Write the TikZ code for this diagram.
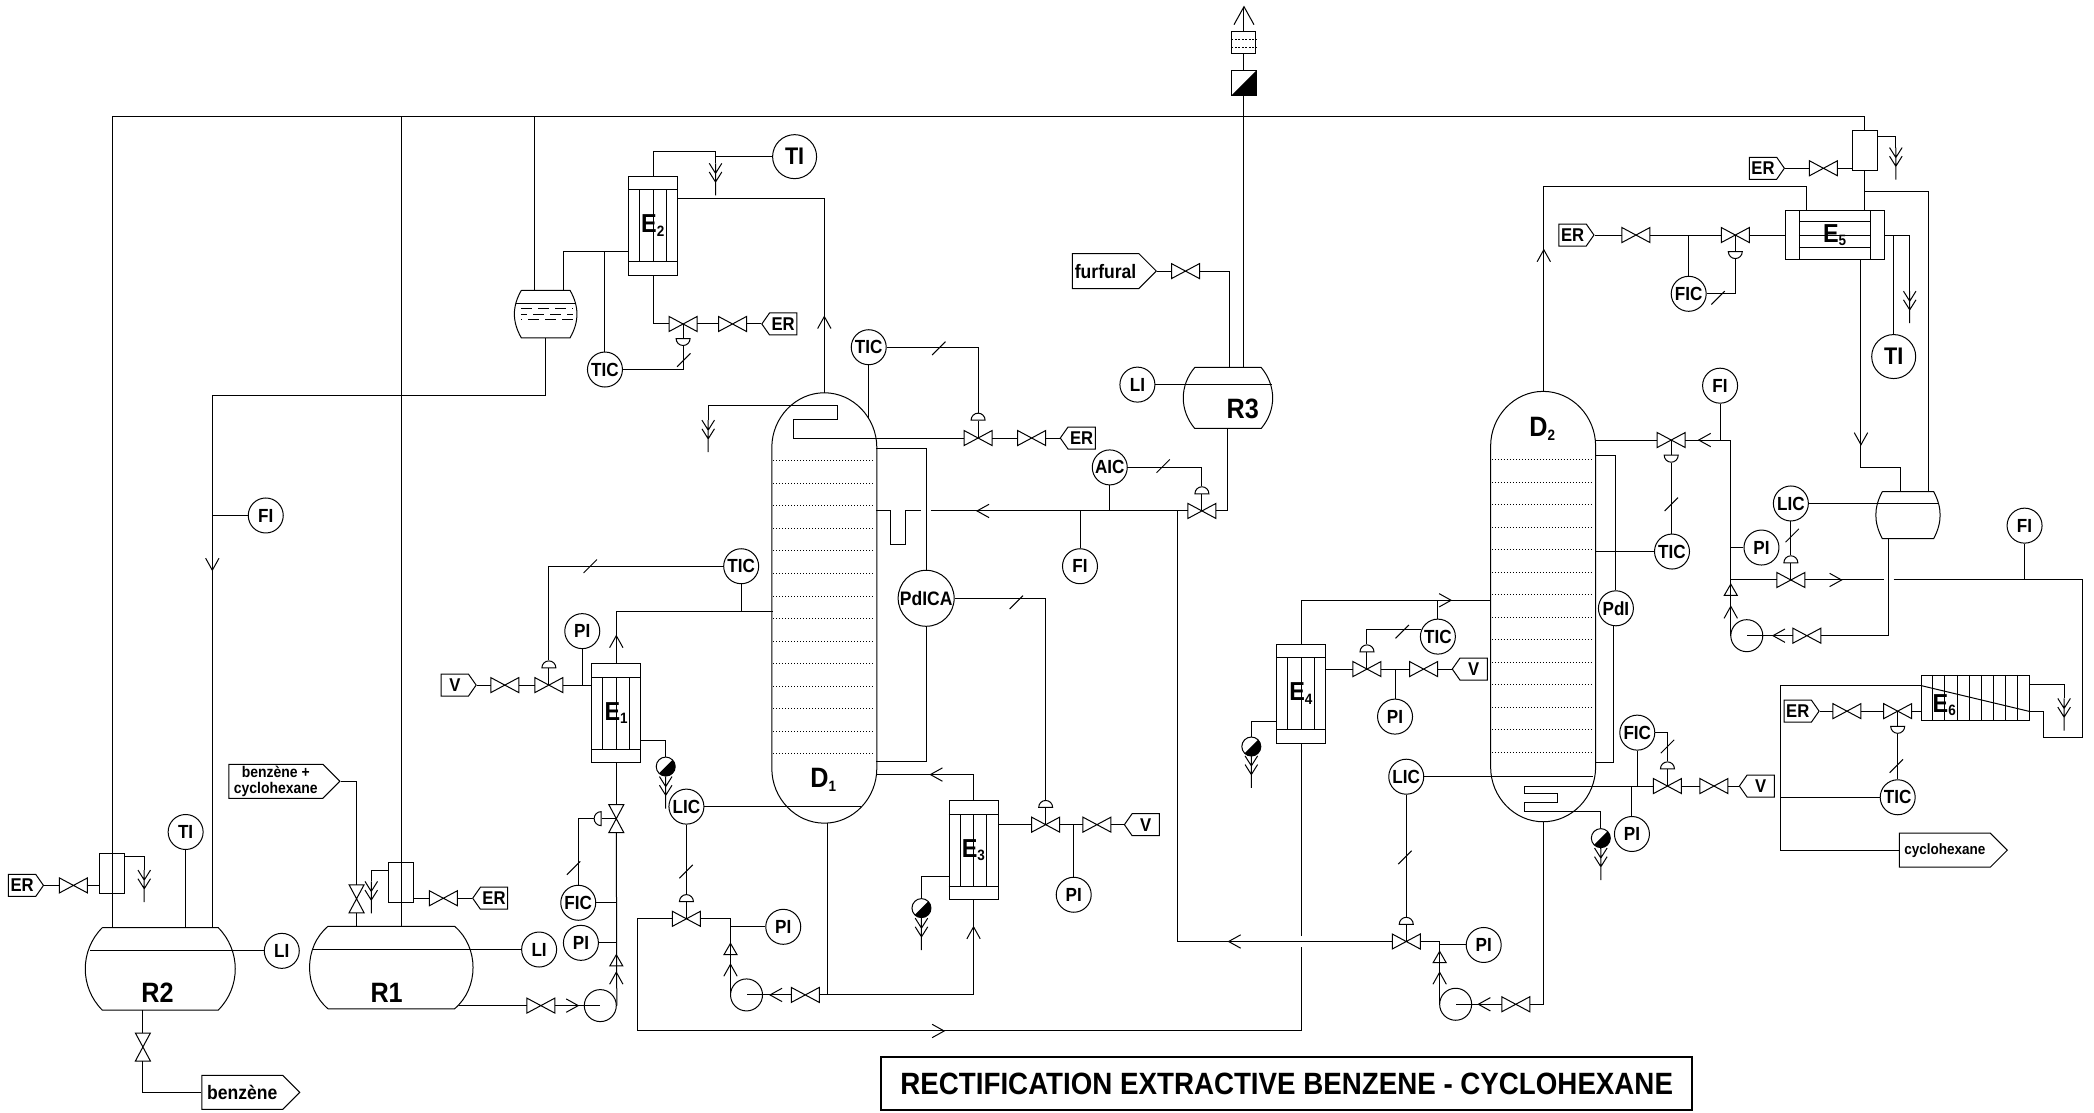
\documentclass[tikz,border=0pt]{standalone}
\usepackage{fontspec}
\setmainfont[FakeStretch=0.9]{Liberation Sans}
\usetikzlibrary{shapes, positioning, calc}

\newcommand{\fsz}[1]{\fontsize{#1}{#1}\selectfont\bfseries}
\newcommand{\subnum}[1]{\textsubscript{\fontsize{15}{15}\selectfont #1}}
\newcommand{\valve}[3][0]{%
	\node[valvebox,rotate=#1] (#2) at (#3) {};
	\draw (#2.north west) -- (#2.south east) -- (#2.north east) -- (#2.south west) -- cycle;}
\newcommand{\vessel}[6]{%
	\node[vesselbox,minimum width=#3pt,minimum height=#4pt] (#1) at (#2) {};
	\draw ($(#1.north west)+(#5,0)$) -- ($(#1.north east)+(-#5,0)$) to[bend left=#6] ($(#1.south east)+(-#5,0)$)
		-- ($(#1.south west)+(#5,0)$) to[bend left=#6] ($(#1.north west)+(#5,0)$);}
\newcommand{\distcol}[2]{%
	\node[vesselbox,minimum width=104pt,minimum height=429.4pt] (#1) at (#2) {};
	\draw ($(#1.north west)+(0,41)$) .. controls +(0,-22.5) and +(-21.5,0) .. (#1.north)
		.. controls +(21.5,0) and +(0,-22.5) .. ($(#1.north east)+(0,41)$) -- ($(#1.south east)+(0,-41)$)
		.. controls +(0,22.5) and +(21.5,0) .. (#1.south)
		.. controls +(-21.5,0) and +(0,22.5) .. ($(#1.south west)+(0,-41)$) -- cycle;
	\foreach \k in {0,...,13}
		\draw[line width=.8pt,dash pattern=on 1pt off 2pt] ($(#1.north west)+(1,51)+(0,\k*16.85)$) -- ++(76,0);}
\newcommand{\exch}[3]{%
	\node[exchbox] (#1) at (#2) {E\subnum{#3}};
	\draw ($(#1.north west)+(0,10.5)$) -- ($(#1.north east)+(0,10.5)$);
	\draw ($(#1.south west)+(0,-10.5)$) -- ($(#1.south east)+(0,-10.5)$);
	\foreach \dx in {-10,0,10}
		\draw ($(#1.north)+(\dx,10.5)$) -- ($(#1.south)+(\dx,-10.5)$);}

\tikzset{
	inst/.style={circle,draw,inner sep=0pt,minimum size=35pt,font=\fsz{19}},
	biginst/.style={circle,draw,inner sep=0pt,minimum size=44pt,font=\fsz{24}},
	valvebox/.style={inner sep=0pt,minimum width=27pt,minimum height=14pt},
	vesselbox/.style={inner sep=0pt},
	exchbox/.style={draw,inner sep=0pt,minimum width=49pt,minimum height=99pt,font=\fsz{26}},
	condbox/.style={draw,inner sep=0pt,minimum width=25pt,minimum height=40pt},
	pump/.style={circle,draw,inner sep=0pt,minimum size=32pt},
	checktri/.style={regular polygon,regular polygon sides=3,draw,inner sep=0pt,minimum size=15pt},
	actu/.style={semicircle,draw,inner sep=0pt,minimum width=14pt,minimum height=7pt,anchor=chord center},
	trap/.style={circle,draw,inner sep=0pt,minimum size=19pt,
		path picture={\fill (path picture bounding box.north east) -- (path picture bounding box.south west)
			-- (path picture bounding box.south east) -- cycle;}},
	tagr/.style={signal,signal to=east,signal pointer angle=110,draw,inner sep=0pt,anchor=east,
		minimum width=35pt,minimum height=22pt,font=\fsz{18.5}},
	tagl/.style={signal,signal to=west,signal pointer angle=110,draw,inner sep=0pt,anchor=west,
		minimum width=35pt,minimum height=22pt,font=\fsz{18.5}},
	lbl/.style={inner sep=0pt,font=\fsz{28}},
	flow/.pic={\draw (-5,9) -- (0,0) -- (5,9);},
	slash/.pic={\draw (-5,5) -- (5,-5);},
	drain/.pic={\coordinate (-top) at (0,0);
		\draw (0,0) -- (0,24) (-4.7,0) -- (0,7.5) -- (4.7,0) (-4.7,6.5) -- (0,14) -- (4.7,6.5);}
}

\begin{document}
\begin{tikzpicture}[x=1.3355pt,y=-1.3355pt,line width=1pt]
	\useasboundingbox (0,0) rectangle (1568,833.4);

	\vessel{r2}{120,725.5}{149.6}{81.5}{13}{45}
	\vessel{r1}{293,724.5}{165.6}{81.5}{15}{50}
	\vessel{r3}{919.5,298}{89.5}{60}{9}{40}
	\vessel{drum}{408.6,235.2}{61}{46.6}{5}{30}
	\vessel{recv}{1428.7,385.7}{62.4}{46}{4.5}{28}
	\node[lbl] (lr2) at (118,743) {R2};
	\node[lbl] (lr1) at (289.5,743.6) {R1};
	\node[lbl] (lr3) at (930.5,306) {R3};

	\distcol{d1}{617.25,455.25}
	\distcol{d2}{1155.5,454.2}
	\node[lbl] (ld1) at (616.6,584) {D\subnum{1}};
	\node[lbl] (ld2) at (1155,321) {D\subnum{2}};

	\exch{e1}{461.5,534}{1}
	\exch{e2}{489,169}{2}
	\exch{e3}{729,636.6}{3}
	\exch{e4}{974.3,519.3}{4}

	\node[draw,inner sep=0pt,minimum width=99pt,minimum height=49pt,font=\fsz{26}] (e5) at (1374,176) {E\subnum{5}};
	\foreach \dx in {-26.5,26.5}
		\draw ($(e5.north)+(\dx,0)$) -- ($(e5.south)+(\dx,0)$);
	\foreach \dy in {-10,0,9}
		\draw ($(e5.west)+(10.5,\dy)$) -- ($(e5.east)+(-10.5,\dy)$);
	\node[draw,inner sep=0pt,minimum width=108pt,minimum height=45pt] (e6) at (1479,522.5) {};
	\foreach \k in {1,...,8}
		\draw ($(e6.north west)+(\k*9.1,0)$) -- ($(e6.south west)+(\k*9.1,0)$);
	\node[lbl,font=\fsz{26}] (le6) at (1456,528) {E\subnum{6}};

	\node[condbox] (cr2) at (84,654) {};
	\node[condbox] (cr1) at (300.5,661) {};
	\node[condbox] (ccond) at (1396.5,113) {};

	\node[inst] (tir2) at (139,623) {TI};
	\node[inst] (lir2) at (211,712) {LI};
	\node[inst] (lir1) at (403.7,711) {LI};
	\node[inst] (fiin) at (199,386) {FI};
	\node[inst] (pie1b) at (435,706) {PI};
	\node[inst] (fice1) at (433,676) {FIC};
	\node[inst] (pie1) at (436,472.6) {PI};
	\node[inst] (ticd1) at (555,424) {TIC};
	\node[inst] (licd1) at (514,604) {LIC};
	\node[inst] (pip2) at (586.5,694) {PI};
	\node[inst] (pie3) at (804,670) {PI};
	\node[circle,draw,inner sep=0pt,minimum size=56pt,font=\fsz{19.5}] (pdica) at (693.5,448) {PdICA};
	\node[inst] (fid1) at (808.7,424) {FI};
	\node[inst] (aic) at (831,350) {AIC};
	\node[inst] (lir3) at (851.7,288) {LI};
	\node[inst] (tice2) at (453,276.7) {TIC};
	\node[inst] (ticd1t) at (650.5,260) {TIC};
	\node[biginst] (tie2) at (595,117.3) {TI};
	\node[inst] (tice4) at (1076.7,476.7) {TIC};
	\node[inst] (pie4) at (1044.6,536.6) {PI};
	\node[inst] (licd2) at (1053,581.6) {LIC};
	\node[inst] (pip3) at (1111,707.6) {PI};
	\node[inst] (ficd2) at (1226,548.6) {FIC};
	\node[inst] (pid2) at (1222,624.5) {PI};
	\node[inst] (pdl) at (1210,455.5) {PdI};
	\node[inst] (ticd2) at (1252,413) {TIC};
	\node[inst] (fid2) at (1288,288.8) {FI};
	\node[inst] (pip4) at (1319,410) {PI};
	\node[inst] (licr) at (1341,377) {LIC};
	\node[inst] (fiout) at (1516,393.6) {FI};
	\node[biginst] (tie5) at (1418,267) {TI};
	\node[inst] (fice5) at (1264.5,220) {FIC};
	\node[inst] (tice6) at (1421,597) {TIC};

	\valve{verr2}{55,663}
	\valve[90]{vbenz}{107,784}
	\valve[90]{vfeed}{267,673}
	\valve{verr1}{332,672.6}
	\valve{vr1}{405,753}
	\valve[90]{ve1out}{461.5,613}
	\valve{ve1a}{411,513}
	\valve{ve1b}{378,513}
	\valve{vlic}{514,688}
	\valve{vp2}{603,745}
	\valve{ve3a}{783,617.5}
	\valve{ve3b}{821.4,617.5}
	\valve{ve2a}{511.5,242.6}
	\valve{ve2b}{548.5,242.6}
	\valve{vd1a}{732.4,328}
	\valve{vd1b}{772.5,328}
	\valve{vfur}{887.7,203}
	\valve{vaic}{900,382.6}
	\valve{vd2in}{1053,705}
	\valve{vp3}{1135,752}
	\valve{ve4a}{1023.6,501}
	\valve{ve4b}{1066,501}
	\valve{vfic}{1248.6,588.6}
	\valve{vficb}{1283.4,588.6}
	\valve{vref}{1251.4,329.5}
	\valve{ve5a}{1299.4,176}
	\valve{ve5b}{1225,176}
	\valve{vcond}{1365.4,126}
	\valve{vlicr}{1341,434.3}
	\valve{vp4}{1353,476}
	\valve{ve6a}{1421,532.5}
	\valve{ve6b}{1383,532.5}

	\node[actu,rotate=90] (afe1) at ($(ve1out)+(-11,0)$) {};
	\node[actu] (ae1) at ($(ve1a)+(0,-12.5)$) {};
	\node[actu] (alic) at ($(vlic)+(0,-12.5)$) {};
	\node[actu] (ae3) at ($(ve3a)+(0,-12.5)$) {};
	\node[actu,rotate=180] (ae2) at ($(ve2a)+(0,10.5)$) {};
	\node[actu] (ad1) at ($(vd1a)+(0,-13)$) {};
	\node[actu] (aaic) at ($(vaic)+(0,-12.5)$) {};
	\node[actu] (ad2) at ($(vd2in)+(0,-12.5)$) {};
	\node[actu] (ae4) at ($(ve4a)+(0,-12.5)$) {};
	\node[actu] (afic) at ($(vfic)+(0,-12.5)$) {};
	\node[actu,rotate=180] (aref) at ($(vref)+(0,11)$) {};
	\node[actu,rotate=180] (ae5) at ($(ve5a)+(0,12)$) {};
	\node[actu] (alicr) at ($(vlicr)+(0,-12.5)$) {};
	\node[actu,rotate=180] (ae6) at ($(ve6a)+(0,11)$) {};

	\node[pump] (p1) at (449.5,753) {};
	\node[pump] (p2) at (559,745) {};
	\node[pump] (p3) at (1090,752) {};
	\node[pump] (p4) at (1308,476) {};
	\node[checktri] (ck1) at (461.5,720.5) {};
	\node[checktri] (ck2) at (547,712) {};
	\node[checktri] (ck3) at (1078,718) {};
	\node[checktri] (ck4) at (1296,443) {};
	\node[trap] (te1) at (498.5,574) {};
	\node[trap] (te3) at (690,680) {};
	\node[trap] (te4) at (937,559) {};
	\node[trap] (td2) at (1198.7,627.6) {};

	\node[tagr] (terr2) at (33,663) {ER};
	\node[tagl] (terr1) at (353.5,672.6) {ER};
	\node[tagr,font=\fsz{15.5},minimum width=111pt,minimum height=34pt,signal pointer angle=90,align=center] (tfeed) at (255,585) {benzène +\\cyclohexane};
	\node[tagr,font=\fsz{19.5},minimum width=98pt,minimum height=34pt,signal pointer angle=90] (tben) at (225,818) {benzène};
	\node[tagr,font=\fsz{19.5},minimum width=84pt,minimum height=35pt,signal pointer angle=90] (tfur) at (866.4,203) {furfural};
	\node[tagr,font=\fsz{15},minimum width=108pt,minimum height=34pt,signal pointer angle=90] (tcyc) at (1503.6,636.6) {cyclohexane};
	\node[tagr] (tve1) at (357,513) {V};
	\node[tagl] (te2er) at (570,242.6) {ER};
	\node[tagl] (td1er) at (793.5,328) {ER};
	\node[tagl] (tve3) at (841.5,617.5) {V};
	\node[tagl] (tve4) at (1087,501) {V};
	\node[tagl] (tvd2) at (1302,588.6) {V};
	\node[tagr] (te5er) at (1194,176) {ER};
	\node[tagr] (tcond) at (1336.6,126) {ER};
	\node[tagr] (te6er) at (1362.6,532.5) {ER};

	\node[draw,inner sep=0pt,minimum width=24pt,minimum height=22pt] (vbox) at (931.5,32) {};
	\draw[dash pattern=on 2pt off 1.5pt] ($(vbox.west)+(0,-2.5)$) -- ($(vbox.east)+(0,-2.5)$);
	\draw[dash pattern=on 2pt off 1.5pt] ($(vbox.west)+(0,3.5)$) -- ($(vbox.east)+(0,3.5)$);
	\node[draw,inner sep=0pt,minimum width=25pt,minimum height=25pt,
		path picture={\fill (path picture bounding box.north east) -- (path picture bounding box.south west)
			-- (path picture bounding box.south east) -- cycle;}] (filt) at (931.5,62) {};

	\coordinate (hl) at (84,87);
	\coordinate (hr) at (1396.5,87);
	\coordinate (hdrum) at (400,87);
	\coordinate (hr1) at (300.5,87);
	\coordinate (hb) at (1396.5,143.4);
	\coordinate (recout) at (1444,368.5);
	\coordinate (recin) at (1423,368.5);
	\coordinate (ventend) at (931.5,5);
	\coordinate (tee1) at (159,296.5);
	\coordinate (r1out) at (344,753);
	\coordinate (d1in) at (578.5,458);
	\coordinate (d1lvl) at (645,604);
	\coordinate (recyc) at (477,772);
	\coordinate (d1jn) at (620,745);
	\coordinate (d1ret) at (656,580);
	\coordinate (d1tap) at (656,336);
	\coordinate (d1tb) at (656,570);
	\coordinate (d1seal) at (656,382.6);
	\coordinate (d1feed) at (697,382.6);
	\coordinate (r3fur) at (921,275.4);
	\coordinate (tee3) at (881.5,382.6);
	\coordinate (e4gapa) at (974.3,701);
	\coordinate (e4gapb) at (974.3,709);
	\coordinate (d2lvl) at (1193,581.6);
	\coordinate (d2in) at (1116.5,449.5);
	\coordinate (coil) at (1141.5,588.6);
	\coordinate (e5in) at (1353,139.6);
	\coordinate (e5dn) at (1393.5,349.8);
	\coordinate (d2tp) at (1194.6,341);
	\coordinate (d2tb) at (1194.6,570.8);
	\coordinate (outgap) at (1410.7,434.3);
	\coordinate (outa) at (1418,434.3);
	\coordinate (outb) at (1559.5,434.3);
	\coordinate (e6lp) at (1530.4,552.3);
	\coordinate (recbot) at (1414.2,476);
	\coordinate (e6a) at (1438.6,513.4);
	\coordinate (e6b) at (1519.6,532.7);
	\coordinate (colx) at (1333,513.4);
	\coordinate (e2in) at (470.6,188.4);
	\coordinate (druma) at (421.8,217.7);
	\coordinate (c1a) at (627.4,303.8);
	\coordinate (d1dome) at (650.5,314);

	\pic (dr2) at (108,651.5) {drain};
	\pic (dr1) at (278,660) {drain};
	\pic (dte1) at (498.5,581.5) {drain};
	\pic (dte3) at (690,687.5) {drain};
	\pic (dre2) at (535.8,122.3) {drain};
	\pic (drd1) at (530.3,314.6) {drain};
	\pic (drc) at (1419.6,110.5) {drain};
	\pic (dre5) at (1430,218) {drain};
	\pic (dre6) at (1545.6,523) {drain};
	\pic (dte4) at (937,566) {drain};
	\pic (dtd2) at (1198.7,635) {drain};

	\foreach \from/\to in {
		hl/hr, hl/{hl |- r2.north}, hr/ccond.north, ccond.south/{ccond.south |- e5.north},
		hdrum/{hdrum |- drum.north}, hr1/{hr1 |- r1.north},
		filt.south/{filt.south |- r3.north}, filt.north/vbox.south, vbox.north/ventend,
		tir2.south/{tir2 |- r2.north}, fiin.west/{fiin -| tee1},
		terr2.east/verr2.west, verr2.east/{verr2 -| cr2.west}, terr1.west/verr1.east, verr1.west/{verr1 -| cr1.east},
		vbenz.east/{vbenz.east |- r2.south}, vfeed.west/{vfeed.west |- r1.north},
		r1out/vr1.west, vr1.east/p1.center, p1.east/ve1out.west, fice1.east/{fice1 -| ve1out}, pie1b.east/{pie1b -| ve1out},
		ve1out.east/{ve1out.east |- e1.south}, afe1.chord center/ve1out.center,
		tve1.east/ve1b.west, ve1b.east/ve1a.west, ve1a.east/{ve1a -| e1.west}, pie1.south/{pie1 |- ve1a},
		ticd1.south/{ticd1 |- d1in}, ae1.chord center/ve1a.center,
		licd1.east/d1lvl, licd1.south/alic.apex, alic.chord center/vlic.center,
		pip2.west/{pip2 -| p2.west}, vp2.west/p2.center, vp2.east/d1jn, {d1jn |- d1.south}/d1jn,
		{e3.east |- ve3a}/ve3a.west, ve3a.east/ve3b.west, ve3b.east/tve3.west, pie3.north/{pie3 |- ve3a}, ae3.chord center/ve3a.center,
		d1feed/vaic.west, fid1.north/{fid1 |- vaic}, aic.south/{aic |- vaic}, aaic.chord center/vaic.center,
		tfur.east/vfur.west, licd2.east/d2lvl, licd2.south/ad2.apex, ad2.chord center/vd2in.center,
		pip3.west/{pip3 -| p3.west}, vp3.west/p3.center,
		e4gapa/e4.south, tice4.north/{tice4 |- d2in}, ae4.chord center/ve4a.center, ve4a.west/{ve4a -| e4.east},
		ve4a.east/ve4b.west, ve4b.east/tve4.west, pie4.north/{pie4 |- ve4a},
		ficd2.south/{ficd2 |- vfic}, pid2.north/{pid2 |- vfic}, afic.chord center/vfic.center, vfic.east/vficb.west, vficb.east/tvd2.west,
		vfic.west/coil, e5in/{e5in |- e5.north},
		ve5a.east/{ve5a -| e5.west}, ve5a.west/ve5b.east, te5er.east/ve5b.west, fice5.north/{fice5 |- ve5a}, ae5.chord center/ve5a.center,
		tie5.north/{tie5 |- e5.east}, vcond.east/{vcond -| ccond.west}, tcond.east/vcond.west,
		licr.south/alicr.apex, alicr.chord center/vlicr.center,
		pip4.west/{pip4 -| p4.west}, vlicr.west/{vlicr -| p4.west}, fid2.south/{fid2 |- vref},
		vref.west/{vref -| d2.east}, aref.chord center/vref.center, aref.apex/{aref.apex |- ticd2.north},
		ticd2.west/{ticd2 -| d2.east}, vlicr.east/outgap, fiout.south/{fiout |- outb},
		vp4.west/p4.center, recbot/vp4.east, {recbot |- recv.south}/recbot,
		e6a/e6b, e6a/colx, tice6.west/{tice6 -| colx},
		ve6a.east/{ve6a -| e6.west}, ve6a.west/ve6b.east, ve6b.west/te6er.east, ae6.chord center/ve6a.center, ae6.apex/{ae6.apex |- tice6.north},
		ve2a.east/ve2b.west, ve2b.east/te2er.west, ae2.chord center/ve2a.center,
		tice2.north/{tice2 |- e2in}, tie2.west/{tie2 -| dre2-top},
		vd1a.east/vd1b.west, vd1b.east/td1er.west, ticd1t.south/d1dome, ad1.chord center/vd1a.center}
		\draw (\from) -- (\to);

	\draw (vbenz.west) |- (tben.west);
	\draw (tfeed.east) -| (vfeed.east);
	\draw (e1.north) |- (d1in);
	\draw (vlic.west) -| (recyc) -| (e4gapb);
	\draw (vlic.east) -| (p2.west);
	\draw (ticd1.west) -| (ae1.apex);
	\draw ($(e1.east)+(0,20.5)$) -| (te1.north);
	\draw (te1.south) -- (dte1-top);
	\draw (afe1.apex) -| (fice1.north);
	\draw (vd1a.west) -| ($(c1a)+(-33.4,10)$) -- ($(c1a)+(0,10)$) -- (c1a) -| (drd1-top);
	\draw (d1jn) -| (e3.south);
	\draw (e3.north) |- (d1ret);
	\draw ($(e3.west)+(0,20)$) -| (te3.north);
	\draw (te3.south) -- (dte3-top);
	\draw (pdica.east) -| (ae3.apex);
	\draw (d1tap) -| (pdica.north);
	\draw (pdica.south) |- (d1tb);
	\draw (d1seal) -- ++(11,0) -- ++(0,25) -- ++(11,0) -- ++(0,-25) -- ++(12,0);
	\draw (aic.east) -| (aaic.apex);
	\draw (vaic.east) -| (r3.south);
	\draw (vfur.east) -| (r3fur);
	\draw (tee3) |- (vd2in.west);
	\draw (vd2in.east) -| (p3.west);
	\draw (vp3.east) -| (d2.south);
	\draw (e4.north) |- (d2in);
	\draw (tice4.157) -| (ae4.apex);
	\draw ($(e4.west)+(0,20.7)$) -| (te4.north);
	\draw (te4.south) -- (dte4-top);
	\draw (coil) -- ++(0,5.3) -- ++(25,0) -- ++(0,6.7) -- ++(-25,0) -- ++(0,6.7) -| (td2.north);
	\draw (td2.south) -- (dtd2-top);
	\draw (ficd2.east) -| (afic.apex);
	\draw (d2.north) |- (e5in);
	\draw (fice5.east) -| (ae5.apex);
	\draw (e5.east) -| (dre5-top);
	\draw (e5dn |- e5.south) -- (e5dn) -| (recin);
	\draw (hb) -| (recout);
	\draw ($(ccond.east)+(0,-10.5)$) -| (drc-top);
	\draw (vref.east) -| (p4.west);
	\draw (d2tp) -| (pdl.north);
	\draw (pdl.-97) |- (d2tb);
	\draw (outa) -- (outb) |- (e6lp) |- ($(e6.east)+(0,10.2)$);
	\draw ($(e6.east)+(0,-9.8)$) -| (dre6-top);
	\draw (colx) |- (tcyc.west);
	\draw (tice2.east) -| (ae2.apex);
	\draw (e2.south) |- (ve2a.west);
	\draw (e2.north) |- ($(dre2-top)+(0,-8.7)$) -- (dre2-top);
	\draw ($(e2.east)+(0,-20)$) -| (d1.north);
	\draw (e2in) -| (druma);
	\draw (ticd1t.east) -| (ad1.apex);
	\draw (tee1 |- r2.north) -- (tee1) -| (drum.south);
	\draw ($(cr2.east)+(0,-13)$) -| (dr2-top);
	\draw ($(cr1.west)+(0,-9)$) -| (dr1-top);

	\draw (lir2.west) -- ($(r2.west |- lir2)+(4,0)$);
	\draw (lir1.west) -- ($(r1.west |- lir1)+(4,0)$);
	\draw (lir3.east) -- ($(r3.east |- lir3)+(-1,0)$);
	\draw (licr.east) -- ($(recv.east |- licr)+(-1,0)$);
	\draw ($(drum.west)+(1,-8.2)$) -- ($(drum.east)+(-1,-8.2)$);
	\foreach \dy/\ph in {-4/0,0/5,4/10}
		\draw[dash pattern=on 11pt off 6pt,dash phase=\ph pt] ($(drum.west)+(5,\dy)$) -- ($(drum.east)+(-3,\dy)$);

	\foreach \x/\y/\rot in {
		159/427/180, 617.25/237/0, 461.5/476/0, 696.7/580/90, 729/694/0, 731.6/382.6/90,
		707/772/-90, 920/705/90, 576.6/745/90, 547/722/0, 461.5/728/0, 433/753/-90,
		1107/752/90, 1078/728/0, 1086.6/449.5/-90, 1156/187/0, 1272/329.5/90, 1327.6/476/90,
		1296/454/0, 1379/434.3/-90, 1393.5/333/180}
		\pic[rotate=\rot] at (\x,\y) {flow};
	\pic[scale=1.5] at (ventend) {flow};

	\foreach \x/\y in {
		429.5/650, 442/424, 513.7/652.6, 761/451, 871/349, 703/260.8, 512/269.6,
		1052/642, 1050/473, 1248.6/559, 1286.5/223, 1251.5/377.6, 1342/401, 1420/573.6}
		\pic at (\x,\y) {slash};

	\node[draw,line width=2pt,inner sep=0pt,minimum width=811pt,minimum height=53pt,font=\fsz{30.8}] (title) at (963.5,811.5)
		{RECTIFICATION EXTRACTIVE BENZENE - CYCLOHEXANE};
\end{tikzpicture}
\end{document}
